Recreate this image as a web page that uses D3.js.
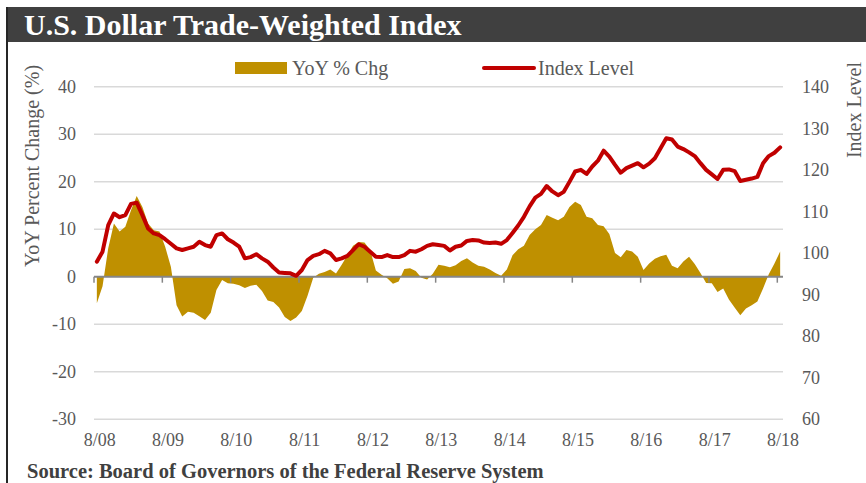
<!DOCTYPE html>
<html lang="en">
<head>
    <meta charset="UTF-8">
    <script src="https://cdn.jsdelivr.net/npm/d3@7"></script>
    <title>U.S. Dollar Trade-Weighted Index</title>
    <style>
        body { margin: 0; background: white; }
        svg text { font-family: 'Liberation Serif', 'DejaVu Serif', serif; }
        .axis text { fill: #595959; font-size: 18px; }
        .axis path, .axis line { display: none; }
    </style>
</head>
<body>
<div id="chart"></div>
<script>
    // monthly observations, Aug 2008 .. Aug 2018
    const months = d3.timeMonth.range(new Date(2008, 7, 1), new Date(2018, 8, 1));

    const yoyChg = [
        -5.6, -2.0, 6.0, 11.2, 9.5, 10.5, 14.0, 17.0, 14.7, 11.2, 9.8, 9.5,
        6.3, 2.1, -6.0, -8.4, -7.4, -7.6, -8.3, -9.1, -7.6, -2.8, -0.7, -1.4,
        -1.5, -1.8, -2.4, -1.9, -1.7, -3.0, -5.0, -5.3, -6.5, -8.5, -9.3, -8.6,
        -7.2, -4.0, -0.2, 0.6, 1.0, 1.5, 0.7, 2.5, 4.5, 6.5, 7.3, 7.2,
        5.6, 1.3, 0.4, -0.3, -1.5, -1.0, 1.6, 1.8, 1.2, -0.2, -0.6, 0.6,
        2.5, 2.3, 2.0, 2.4, 3.3, 3.9, 3.0, 2.3, 2.1, 1.5, 0.8, 0.2,
        1.5, 4.5, 5.8, 6.5, 8.8, 10.0, 10.9, 13.0, 12.4, 11.9, 12.6, 14.7,
        15.8, 15.1, 12.6, 12.3, 10.9, 10.6, 9.0, 5.0, 4.1, 5.6, 5.3, 4.2,
        1.4, 2.8, 3.8, 4.3, 4.6, 2.3, 1.8, 3.2, 4.2, 2.7, 0.8, -1.3,
        -1.4, -3.2, -2.5, -4.8, -6.5, -8.1, -6.7, -6.0, -5.2, -2.5, 0.5, 2.8,
        5.3
    ];

    const indexLevel = [
        97.9, 100.3, 106.7, 109.5, 108.6, 109.1, 111.8, 112.1, 109.1, 105.9, 104.7, 104.3,
        103.3, 102.2, 101.1, 100.7, 101.1, 101.5, 102.7, 101.9, 101.5, 104.3, 104.7, 103.3,
        102.5, 101.5, 98.7, 99.0, 99.7, 98.7, 97.9, 96.5, 95.3, 95.2, 95.1, 94.5,
        95.9, 98.3, 99.3, 99.7, 100.5, 99.9, 98.3, 98.7, 99.3, 100.7, 102.1, 101.5,
        100.3, 99.1, 99.0, 99.5, 99.0, 99.0, 99.5, 100.5, 100.3, 100.9, 101.7, 102.1,
        101.9, 101.7, 100.6, 101.5, 101.8, 102.9, 103.1, 103.0, 102.5, 102.4, 102.5, 102.2,
        103.1, 104.8, 106.6, 108.7, 111.2, 113.3, 114.2, 116.1, 114.8, 113.9, 114.7, 117.1,
        119.6, 120.0, 119.0, 120.8, 122.2, 124.6, 123.2, 121.2, 119.3, 120.4, 121.0, 121.6,
        120.6, 121.5, 122.8, 125.2, 127.6, 127.3, 125.6, 125.0, 124.2, 123.3, 121.6, 120.0,
        118.9, 117.8, 120.0, 120.1, 119.7, 117.3, 117.6, 117.9, 118.3, 121.6, 123.3, 124.1,
        125.4
    ];

    const xTickLabels = ["8/08", "8/09", "8/10", "8/11", "8/12", "8/13", "8/14", "8/15", "8/16", "8/17", "8/18"];
    const leftTicks = [-30, -20, -10, 0, 10, 20, 30, 40];
    const rightTicks = [60, 70, 80, 90, 100, 110, 120, 130, 140];

    const width = 866, height = 483;
    const plotLeft = 94, plotRight = 783, plotTop = 86.7, plotBottom = 419.2;

    const svg = d3.select("#chart").append("svg")
        .attr("width", width)
        .attr("height", height);

    // title bar + frame
    svg.append("rect")
        .attr("x", 6).attr("y", 7)
        .attr("width", width - 6).attr("height", 35)
        .attr("fill", "#404040");
    svg.append("line")
        .attr("x1", 7).attr("x2", 7)
        .attr("y1", 7).attr("y2", height)
        .attr("stroke", "#262626").attr("stroke-width", 2);
    svg.append("text")
        .attr("x", 24).attr("y", 35)
        .attr("fill", "white")
        .attr("font-size", 30)
        .attr("font-weight", "bold")
        .text("U.S. Dollar Trade-Weighted Index");

    const x = d3.scaleBand()
        .domain(months)
        .range([plotLeft, plotRight])
        .padding(0);
    const cx = d => x(d) + x.bandwidth() / 2;

    const yL = d3.scaleLinear().domain([-30, 40]).range([plotBottom, plotTop]);
    const yR = d3.scaleLinear().domain([60, 140]).range([plotBottom, plotTop]);

    // gridlines
    svg.append("g")
        .selectAll("line")
        .data(leftTicks.filter(d => d !== 0))
        .enter()
        .append("line")
        .attr("x1", plotLeft).attr("x2", plotRight)
        .attr("y1", d => yL(d)).attr("y2", d => yL(d))
        .attr("stroke", "#d9d9d9")
        .attr("stroke-width", 1.5);

    // YoY area
    const area = d3.area()
        .x((d, i) => cx(months[i]))
        .y0(yL(0))
        .y1(d => yL(d));
    svg.append("path")
        .datum(yoyChg)
        .attr("fill", "#bf9000")
        .attr("d", area);

    // zero axis with year ticks
    const yearStarts = months.filter((d, i) => i % 12 === 0);
    svg.append("line")
        .attr("x1", plotLeft).attr("x2", plotRight)
        .attr("y1", yL(0)).attr("y2", yL(0))
        .attr("stroke", "#868686").attr("stroke-width", 2);
    svg.append("g")
        .selectAll("line")
        .data(yearStarts)
        .enter()
        .append("line")
        .attr("x1", d => x(d)).attr("x2", d => x(d))
        .attr("y1", yL(0)).attr("y2", yL(0) + 6)
        .attr("stroke", "#868686").attr("stroke-width", 1.5);

    // index line
    const line = d3.line()
        .x((d, i) => cx(months[i]))
        .y(d => yR(d));
    svg.append("path")
        .datum(indexLevel)
        .attr("fill", "none")
        .attr("stroke", "#c00000")
        .attr("stroke-width", 4)
        .attr("stroke-linejoin", "round")
        .attr("stroke-linecap", "round")
        .attr("d", line);

    // axes (labels only), plain hyphen for negatives
    svg.append("g")
        .attr("class", "axis")
        .attr("transform", `translate(${plotLeft},0)`)
        .call(d3.axisLeft(yL).tickValues(leftTicks).tickSize(0).tickPadding(18)
            .tickFormat(d => String(d)));

    svg.append("g")
        .attr("class", "axis")
        .attr("transform", `translate(${plotRight},0)`)
        .call(d3.axisRight(yR).tickValues(rightTicks).tickSize(0).tickPadding(19)
            .tickFormat(d => String(d)));

    svg.append("g")
        .attr("class", "axis")
        .attr("transform", `translate(${x.bandwidth() / 2},${plotBottom})`)
        .call(d3.axisBottom(x).tickValues(yearStarts).tickSize(0).tickPadding(14)
            .tickFormat((d, i) => xTickLabels[i]));

    // axis titles
    svg.append("text")
        .attr("transform", "translate(39,166) rotate(-90)")
        .attr("text-anchor", "middle")
        .attr("fill", "#595959")
        .attr("font-size", 20)
        .text("YoY Percent Change (%)");
    svg.append("text")
        .attr("transform", "translate(861,62) rotate(-90)")
        .attr("text-anchor", "end")
        .attr("fill", "#595959")
        .attr("font-size", 20)
        .text("Index Level");

    // legend
    const legend = svg.append("g").attr("font-size", 20).attr("fill", "#595959");
    legend.append("rect")
        .attr("x", 235).attr("y", 62)
        .attr("width", 52).attr("height", 12)
        .attr("fill", "#bf9000");
    legend.append("text").attr("x", 292).attr("y", 75).text("YoY % Chg");
    legend.append("line")
        .attr("x1", 484).attr("x2", 534)
        .attr("y1", 68).attr("y2", 68)
        .attr("stroke", "#c00000").attr("stroke-width", 4)
        .attr("stroke-linecap", "round");
    legend.append("text").attr("x", 538).attr("y", 75).text("Index Level");

    // source
    svg.append("text")
        .attr("x", 27).attr("y", 478)
        .attr("fill", "#404040")
        .attr("font-size", 20.5)
        .attr("font-weight", "bold")
        .text("Source:  Board of Governors of the Federal Reserve System");
</script>
</body>
</html>
